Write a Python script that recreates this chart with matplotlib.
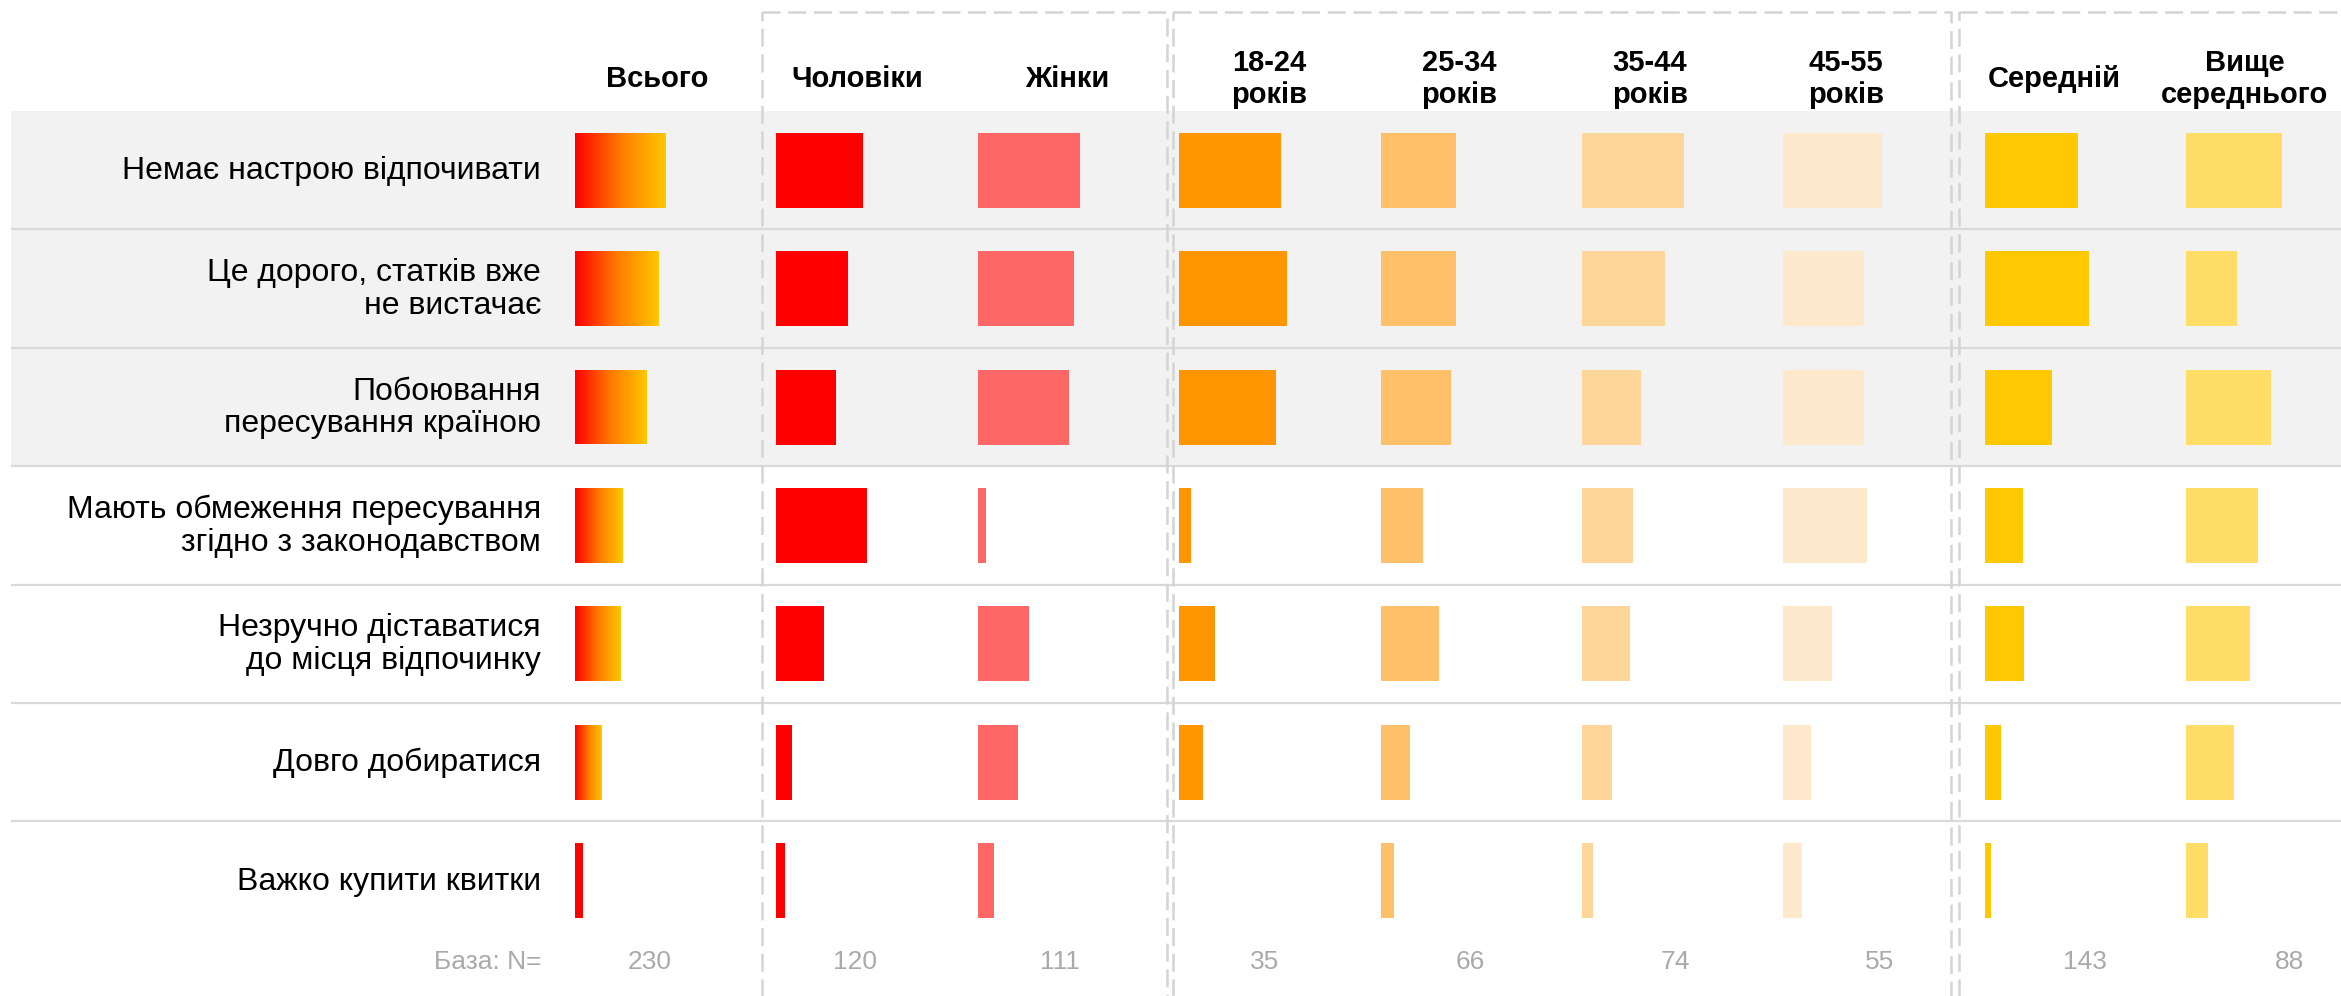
import numpy as np
import matplotlib
matplotlib.use('Agg')
import matplotlib.pyplot as plt
from matplotlib.patches import Rectangle
from matplotlib.colors import LinearSegmentedColormap

plt.rcParams['font.family'] = ['Liberation Sans', 'DejaVu Sans']
plt.rcParams['lines.scale_dashes'] = False

# --- data (share of respondents, %) ---
categories = ['Немає настрою відпочивати',
              'Це дорого, статків вже\nне вистачає',
              'Побоювання\nпересування країною',
              'Мають обмеження пересування\nзгідно з законодавством',
              'Незручно діставатися\nдо місця відпочинку',
              'Довго добиратися',
              'Важко купити квитки']

groups = ['Всього', 'Чоловіки', 'Жінки', '18-24\nроків', '25-34\nроків',
          '35-44\nроків', '45-55\nроків', 'Середній', 'Вище\nсереднього']

total = [30.3, 27.7, 24.0, 16.0, 15.3, 9.0, 2.7]
men = [28.7, 24.0, 19.7, 30.3, 16.0, 5.3, 2.7]
women = [34.0, 32.0, 30.3, 2.7, 17.0, 13.3, 5.3]
age_18_24 = [34.0, 36.0, 32.3, 4.0, 12.0, 8.0, 0.0]
age_25_34 = [25.0, 25.0, 23.3, 14.0, 19.5, 9.9, 4.6]
age_35_44 = [34.0, 27.7, 19.7, 17.0, 16.0, 10.1, 3.8]
age_45_55 = [33.0, 27.0, 27.0, 28.0, 16.2, 9.1, 6.3]
income_mid = [31.0, 34.7, 22.3, 12.7, 13.2, 5.3, 2.0]
income_high = [32.0, 17.0, 28.3, 24.0, 21.3, 16.0, 7.1]

base_n = [230, 120, 111, 35, 66, 74, 55, 143, 88]

series = [total, men, women, age_18_24, age_25_34, age_35_44, age_45_55,
          income_mid, income_high]
colors = [None, '#ff0000', '#ff6666', '#ff9500', '#ffc069', '#ffd699',
          '#ffe9cc', '#ffc800', '#ffdd66']

# --- layout (pixel space of the output image) ---
W, H = 2341, 996
ROW_TOP = 111
ROW_H = 118.4
BAR_H = 75
COL_X0 = 575
COL_STEP = 201.4
PX_PER_PCT = 3.0
LABEL_X = 541
header_x = [657, 857, 1067, 1269, 1459, 1650, 1846, 2054, 2245]

fig = plt.figure(figsize=(W / 100, H / 100), dpi=100)
ax = fig.add_axes([0, 0, 1, 1])

row_centers = ROW_TOP + ROW_H * (np.arange(len(categories)) + 0.5)

# grey band behind first three rows
ax.add_patch(Rectangle((11, ROW_TOP), W - 11, 3 * ROW_H, fc='#f2f2f2', ec='none', zorder=0))
# row separators
for k in range(1, len(categories)):
    y = ROW_TOP + k * ROW_H
    ax.plot([11, W], [y, y], color='#d9d9d9', lw=1.6, zorder=1, solid_capstyle='butt')

# dashed group boxes
for x0, x1 in [(762, 1167), (1173, 1951), (1959, W + 60)]:
    ax.add_patch(Rectangle((x0, 12), x1 - x0, H + 60, fill=False, ec='#d4d4d4',
                           lw=1.8, ls=(0, (13, 5.5)), zorder=2))

# bars
grad_cmap = LinearSegmentedColormap.from_list('tot', ['#ff0000', '#ff7a00', '#ffc800'])
grad = np.linspace(0, 1, 256).reshape(1, -1)
for j, vals in enumerate(series):
    left = COL_X0 + j * COL_STEP
    widths = np.array(vals) * PX_PER_PCT
    if colors[j] is None:
        bars = ax.barh(row_centers, widths, left=left, height=BAR_H, color='#ff0000', zorder=3)
        for b, yc, w in zip(bars, row_centers, widths):
            if w < 15:
                # very thin bars stay plain red, as in the original
                continue
            b.set_facecolor('none')
            im = ax.imshow(grad, cmap=grad_cmap, aspect='auto', zorder=3,
                           extent=(left, left + w, yc + BAR_H / 2, yc - BAR_H / 2))
            im.set_clip_path(b)
    else:
        ax.barh(row_centers, widths, left=left, height=BAR_H, color=colors[j], zorder=3)

# column headers
for x, g in zip(header_x, groups):
    ax.text(x, 79, g, ha='center', va='center', fontsize=21, fontweight='bold',
            linespacing=1.15, color='#000000')

# row labels
for yc, lab in zip(row_centers, categories):
    ax.text(LABEL_X, yc + 1, lab, ha='right', va='center', fontsize=23,
            linespacing=1.12, color='#000000')

# base sizes
ax.text(LABEL_X, 962, 'База: N=', ha='right', va='center', fontsize=19, color='#aaaaaa')
for j, n in enumerate(base_n):
    ax.text(650 + j * 205, 962, str(n), ha='center', va='center', fontsize=19, color='#aaaaaa')

ax.set_xlim(0, W)
ax.set_ylim(H, 0)
ax.axis('off')

fig.savefig('out.png', dpi=100)
